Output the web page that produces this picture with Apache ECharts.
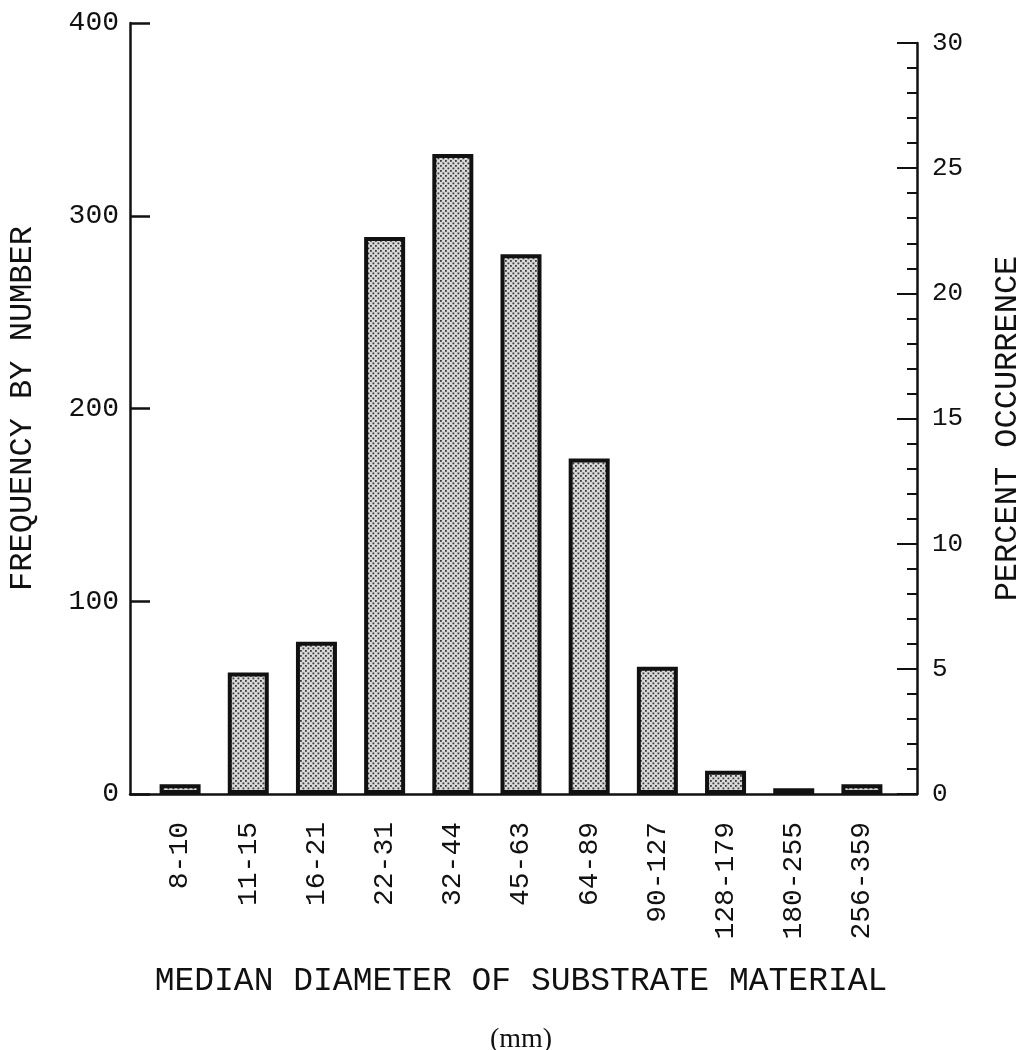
<!DOCTYPE html>
<html><head><meta charset="utf-8">
<script src="https://cdn.jsdelivr.net/npm/echarts@6/dist/echarts.min.js"></script>
<style>html,body{margin:0;padding:0;background:#fff}#c{width:1024px;height:1050px}</style>
</head><body><div id="c"></div>
<script>
const categories = ['8-10','11-15','16-21','22-31','32-44','45-63','64-89','90-127','128-179','180-255','256-359'];
const frequency = [5, 63, 79, 289, 332, 280, 174, 66, 12, 3, 5];
const freqTicks = [0, 100, 200, 300, 400];
const pctTicks = [0, 5, 10, 15, 20, 25, 30];
const xTitle = 'MEDIAN DIAMETER OF SUBSTRATE MATERIAL';
const xUnit = '(mm)';
const yTitleLeft = 'FREQUENCY BY NUMBER';
const yTitleRight = 'PERCENT OCCURRENCE';

const FONT = 'Liberation Mono';
const INK = '#111';

function dotPattern() {
  const c = document.createElement('canvas');
  c.width = 5; c.height = 5;
  const g = c.getContext('2d');
  g.fillStyle = '#d9d9d9'; g.fillRect(0, 0, 5, 5);
  g.fillStyle = '#3a3a3a';
  g.fillRect(0, 0, 1.8, 1.8);
  g.fillRect(2.5, 2.5, 1.8, 1.8);
  return c;
}

const chart = echarts.init(document.getElementById('c'), null, {renderer: 'canvas'});
chart.setOption({
  animation: false,
  backgroundColor: '#fff',
  grid: [
    {left: 146, right: 128, top: 23, bottom: 256, outerBoundsMode: 'none', containLabel: false},
    {left: 130, right: 107, top: 43, bottom: 256, outerBoundsMode: 'none', containLabel: false}
  ],
  xAxis: [
    {
      type: 'category', gridIndex: 0, data: categories,
      axisLine: {show: false}, axisTick: {show: false},
      axisLabel: {rotate: 90, margin: 28, fontFamily: FONT, fontSize: 28, color: INK, interval: 0},
      name: '{a|' + xTitle + '}\n{b|' + xUnit + '}',
      nameLocation: 'middle', nameGap: 158,
      nameTextStyle: {
        rich: {
          a: {fontFamily: FONT, fontSize: 33, color: INK, lineHeight: 58},
          b: {fontFamily: 'Liberation Serif', fontSize: 28, color: INK, lineHeight: 60}
        }
      }
    },
    {
      type: 'value', gridIndex: 1, min: 0, max: 1,
      axisLine: {show: true, onZero: false, lineStyle: {color: INK, width: 2.5}},
      axisTick: {show: false}, axisLabel: {show: false}, splitLine: {show: false}
    }
  ],
  yAxis: [
    {
      type: 'value', gridIndex: 0, position: 'left', offset: 16,
      min: freqTicks[0], max: freqTicks[freqTicks.length - 1], interval: freqTicks[1] - freqTicks[0],
      axisLine: {show: true, onZero: false, lineStyle: {color: INK, width: 2.5}},
      axisTick: {show: true, inside: true, length: 20, lineStyle: {color: INK, width: 2.5}},
      axisLabel: {margin: 11, fontFamily: FONT, fontSize: 28, color: INK},
      splitLine: {show: false},
      name: yTitleLeft, nameLocation: 'middle', nameRotate: 90, nameGap: 91,
      nameTextStyle: {fontFamily: FONT, fontSize: 32, color: INK}
    },
    {
      type: 'value', gridIndex: 1, position: 'right',
      min: pctTicks[0], max: pctTicks[pctTicks.length - 1], interval: pctTicks[1] - pctTicks[0],
      axisLine: {show: true, onZero: false, lineStyle: {color: INK, width: 2.5}},
      axisTick: {show: true, inside: true, length: 20, lineStyle: {color: INK, width: 2}},
      minorTick: {show: true, splitNumber: 5, length: 10, lineStyle: {color: INK, width: 2}},
      axisLabel: {margin: 15, fontFamily: FONT, fontSize: 26, color: INK},
      splitLine: {show: false}, minorSplitLine: {show: false},
      name: yTitleRight, nameLocation: 'middle', nameRotate: 90, nameGap: 75,
      nameTextStyle: {fontFamily: FONT, fontSize: 32, color: INK, padding: [0, 20, 0, 0]}
    }
  ],
  series: [
    {
      type: 'bar', xAxisIndex: 0, yAxisIndex: 0,
      data: frequency, barWidth: 41,
      itemStyle: {
        color: {image: dotPattern(), repeat: 'repeat'},
        borderColor: INK, borderWidth: 4
      }
    }
  ]
});
</script></body></html>
